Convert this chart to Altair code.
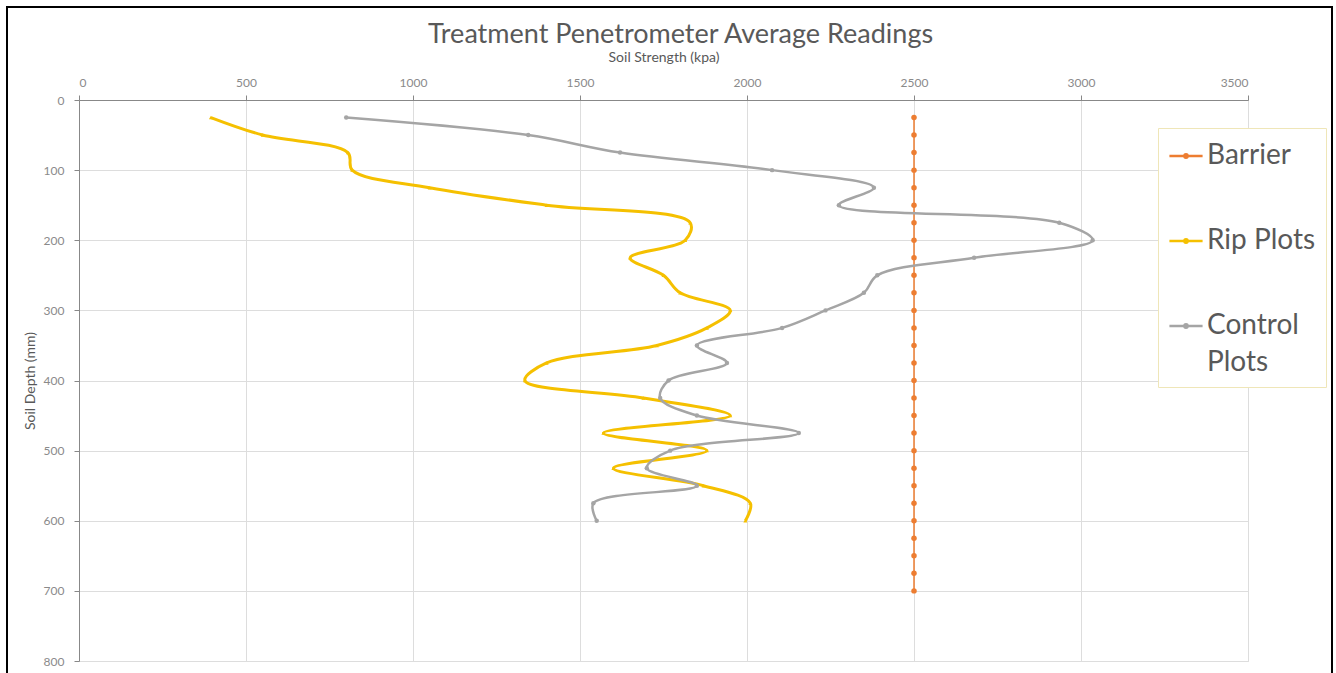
import altair as alt
import pandas as pd

# ---- data ----
series_names = ["Barrier", "Rip Plots", "Control Plots"]
series_colors = ["#ed7d31", "#f5c000", "#a5a5a5"]

barrier_depth = [25, 50, 75, 100, 125, 150, 175, 200, 225, 250, 275, 300, 325, 350,
                 375, 400, 425, 450, 475, 500, 525, 550, 575, 600, 625, 650, 675, 700]
barrier_kpa = [2500, 2500, 2500, 2500, 2500, 2500, 2500, 2500, 2500, 2500, 2500, 2500, 2500, 2500,
               2500, 2500, 2500, 2500, 2500, 2500, 2500, 2500, 2500, 2500, 2500, 2500, 2500, 2500]

plot_depth = [25, 50, 75, 100, 125, 150, 175, 200, 225, 250, 275, 300,
              325, 350, 375, 400, 425, 450, 475, 500, 525, 550, 575, 600]
rip_kpa = [395, 550, 805, 818, 1050, 1400, 1830, 1815, 1650, 1750, 1800, 1950,
           1880, 1730, 1400, 1335, 1690, 1950, 1570, 1880, 1600, 1870, 2010, 1995]
control_kpa = [800, 1345, 1620, 2075, 2380, 2275, 2935, 3035, 2680, 2390, 2350, 2235,
               2105, 1850, 1940, 1765, 1740, 1850, 2155, 1770, 1700, 1850, 1540, 1550]

x_ticks = [0, 500, 1000, 1500, 2000, 2500, 3000, 3500]
y_ticks = [0, 100, 200, 300, 400, 500, 600, 700, 800]

# ---- table ----
rows = []
for d, v in zip(barrier_depth, barrier_kpa):
    rows.append({"series": "Barrier", "depth": d, "kpa": v})
for d, v in zip(plot_depth, rip_kpa):
    rows.append({"series": "Rip Plots", "depth": d, "kpa": v})
for d, v in zip(plot_depth, control_kpa):
    rows.append({"series": "Control Plots", "depth": d, "kpa": v})
df = pd.DataFrame(rows)

FONT = "Lato"
TXT = "#595959"
LBL = "#8a8a8a"

color_scale = alt.Scale(domain=series_names, range=series_colors)
x_enc = alt.X("kpa:Q", scale=alt.Scale(domain=[0, 3500], nice=False),
              axis=alt.Axis(orient="top", values=x_ticks, format="d",
                            title="Soil Strength (kpa)", titleFontWeight="normal",
                            titleFont=FONT, titleFontSize=14, titleColor=TXT,
                            labelFont=FONT, labelFontSize=12, labelColor=LBL,
                            labelLineHeight=14, labelPadding=6, titlePadding=12))
y_enc = alt.Y("depth:Q", scale=alt.Scale(domain=[0, 800], nice=False, reverse=True),
              axis=alt.Axis(values=y_ticks, format="d", title="Soil Depth (mm)",
                            titleFontWeight="normal", titleFont=FONT, titleFontSize=14,
                            titleColor=TXT, labelFont=FONT, labelFontSize=12,
                            labelLineHeight=14, labelColor=LBL, labelPadding=10,
                            titlePadding=6))

legend = alt.Legend(
    title=None, orient="none", legendX=1079, legendY=28,
    symbolType="M-1,0L1,0M-0.1,0A0.1,0.1,0,1,0,0.1,0A0.1,0.1,0,1,0,-0.1,0",
    symbolSize=1100, symbolStrokeWidth=2.5,
    labelFontSize=28, labelFont=FONT, labelColor=TXT, labelLimit=300,
    labelExpr="datum.label == 'Control Plots' ? ['Control', 'Plots'] : datum.label",
    rowPadding=53, padding=10, strokeColor="#efe6b8", fillColor="white",
    labelOffset=3,
)

frame = alt.Chart(alt.Data(values=[{}])).mark_rect(
    filled=False, stroke="black", strokeWidth=2, clip=False
).encode(x=alt.value(-72), x2=alt.value(1253), y=alt.value(-93), y2=alt.value(640))

layers = [frame]
marker = {"Barrier": ("circle", 30), "Rip Plots": ("triangle-up", 16), "Control Plots": ("circle", 20)}
widths = {"Barrier": 1.5, "Rip Plots": 3, "Control Plots": 2.5}
base = alt.Chart(df)
for s in series_names:
    sub = base.transform_filter(alt.datum.series == s)
    line = sub.mark_line(interpolate="catmull-rom", strokeWidth=widths[s]).encode(
        x=x_enc, y=y_enc, order="depth:Q",
        color=alt.Color("series:N", scale=color_scale, legend=legend),
    )
    shp, sz = marker[s]
    pts = sub.mark_point(filled=True, shape=shp, size=sz, opacity=1).encode(
        x="kpa:Q", y="depth:Q",
        color=alt.Color("series:N", scale=color_scale, legend=None),
    )
    layers += [line, pts]

chart = alt.layer(*layers).properties(
    width=1169, height=561,
    autosize=alt.AutoSizeParams(type="none"),
    padding={"left": 79, "top": 100, "right": 88, "bottom": 12},
    title=alt.TitleParams("Treatment Penetrometer Average Readings", anchor="middle",
                          fontSize=27, font=FONT, fontWeight="normal", color=TXT,
                          dx=17, dy=49, offset=6),
).configure_view(stroke=None).configure_axis(
    grid=True, gridColor="#dedede", gridWidth=1, domain=False, ticks=False,
).configure(background="white", style={"guide-label": {"lineHeight": 37}})

chart.save("out.html", embed_options={"renderer": "svg", "actions": False})
